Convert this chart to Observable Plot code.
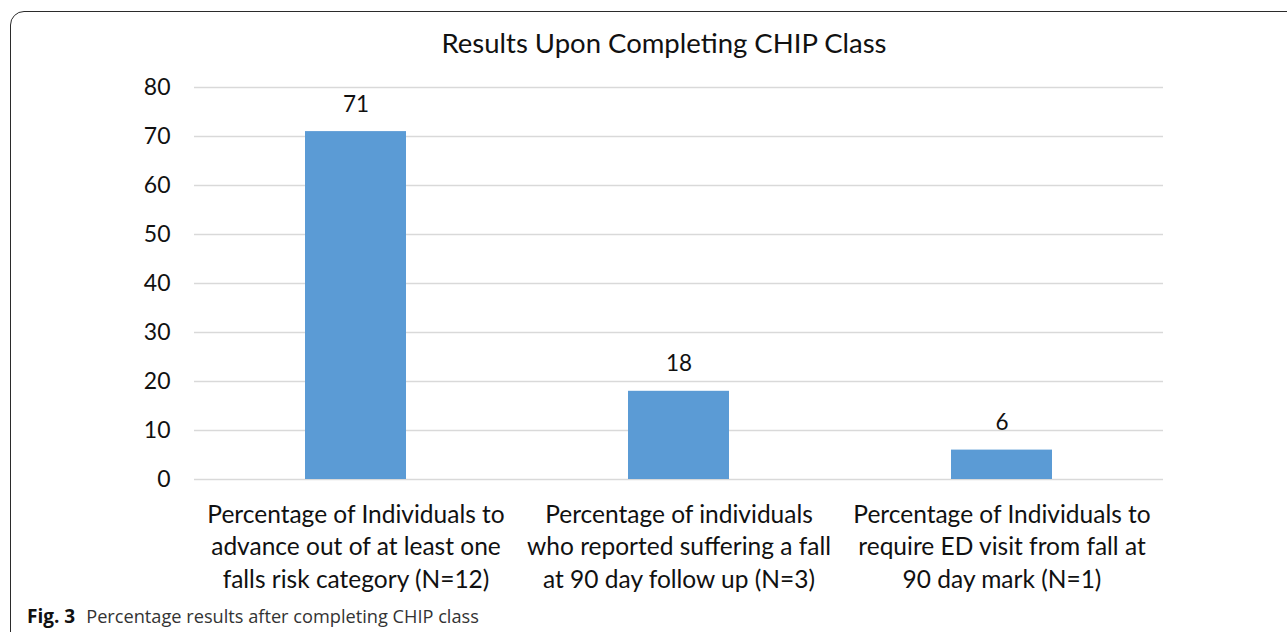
<!DOCTYPE html>
<html>
<head>
<meta charset="utf-8">
<script src="https://cdn.jsdelivr.net/npm/d3@7"></script>
<script src="https://cdn.jsdelivr.net/npm/@observablehq/plot@0.6"></script>
<style>
  html, body { margin: 0; padding: 0; background: #fff; width: 1287px; height: 632px; overflow: hidden; }
  #frame { position: absolute; left: 10px; top: 11px; width: 1400px; height: 700px; border: 1.5px solid #2b2b2b; border-top-left-radius: 14px; box-sizing: border-box; }
  #title { position: absolute; top: 26px; left: 0; width: 1328px; text-align: center; font-family: Lato, "Open Sans", sans-serif; font-size: 27.5px; color: #111; }
  #chart { position: absolute; left: 0; top: 0; }
  #caption { position: absolute; left: 27px; top: 603px; font-family: "Open Sans", sans-serif; font-size: 18.2px; color: #333; white-space: nowrap; }
  #caption b { color: #111; font-size: 19px; margin-right: 11px; }
</style>
</head>
<body>
<div id="frame"></div>
<div id="title">Results Upon Completing CHIP Class</div>
<div id="chart"></div>
<div id="caption"><b>Fig. 3</b>Percentage results after completing CHIP class</div>
<script>
const categories = [
  "Percentage of Individuals to\nadvance out of at least one\nfalls risk category (N=12)",
  "Percentage of individuals\nwho reported suffering a fall\nat 90 day follow up (N=3)",
  "Percentage of Individuals to\nrequire ED visit from fall at\n90 day mark (N=1)"
];
const values = [71, 18, 6];
const yTicks = [0, 10, 20, 30, 40, 50, 60, 70, 80];

const data = categories.map((c, i) => ({category: c, value: values[i]}));

const chart = Plot.plot({
  width: 1287,
  height: 600,
  marginTop: 87,
  marginBottom: 121,
  marginLeft: 194,
  marginRight: 124,
  style: {fontFamily: "Lato, 'Open Sans', sans-serif", background: "transparent", color: "#111"},
  x: {domain: categories, paddingInner: 0.687, paddingOuter: 0.3435, label: null},
  y: {domain: [0, 80], ticks: yTicks, label: null},
  marks: [
    Plot.ruleY(yTicks, {stroke: "#d9d9d9", strokeWidth: 1.5}),
    Plot.barY(data, {x: "category", y: "value", fill: "#5b9bd5"}),
    Plot.text(data, {x: "category", y: "value", text: d => String(d.value), lineAnchor: "bottom", dy: -20, fontSize: 22.5, fill: "#111"}),
    Plot.axisY({ticks: yTicks, tickSize: 0, tickPadding: 24, fontSize: 23, label: null}),
    Plot.axisX({tickSize: 0, tickPadding: 20, fontSize: 24.5, lineHeight: 1.33, label: null})
  ]
});
document.getElementById("chart").appendChild(chart);
</script>
</body>
</html>
